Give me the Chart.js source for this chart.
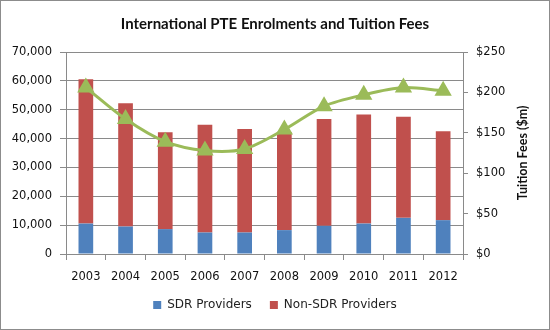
<!DOCTYPE html>
<html><head><meta charset="utf-8">
<script src="https://cdn.jsdelivr.net/npm/chart.js@4"></script>
<style>html,body{margin:0;padding:0;background:#fff}#w{width:550px;height:330px}</style>
</head><body><div id="w"><canvas id="c" width="550" height="330"></canvas></div>
<script>
const categories = ['2003','2004','2005','2006','2007','2008','2009','2010','2011','2012'];
const sdrProviders = [10550, 9520, 8620, 7450, 7450, 8280, 9760, 10550, 12520, 11720];
const nonSdrProviders = [50000, 42760, 33550, 37380, 35860, 33890, 37000, 37830, 35070, 30800];
const tuitionFees = [206, 167, 139, 128, 130, 154, 183, 197, 206, 202];
const leftTicks = [0, 10000, 20000, 30000, 40000, 50000, 60000, 70000];
const rightTicks = [0, 50, 100, 150, 200, 250];
const rightTitle = 'Tuition Fees ($m)';

const TITLE_FONT = 'Lato, "Open Sans", sans-serif';
const FONT = '"DejaVu Sans", Verdana, sans-serif';
const GRID = '#8a8a8a';

const extrasPlugin = {
  id: 'extras',
  afterDraw(chart) {
    const ctx = chart.ctx;
    const area = chart.chartArea;
    ctx.save();
    ctx.strokeStyle = '#8c8c8c';
    ctx.lineWidth = 1;
    ctx.strokeRect(0.5, 0.5, chart.width - 1, chart.height - 1);
    ctx.translate(523, (area.top + area.bottom) / 2);
    ctx.rotate(-Math.PI / 2);
    ctx.fillStyle = '#111';
    ctx.font = 'bold 12.5px ' + TITLE_FONT;
    ctx.textAlign = 'center';
    ctx.textBaseline = 'middle';
    ctx.fillText(rightTitle, 0, 0);
    ctx.restore();
  }
};

new Chart(document.getElementById('c'), {
  data: {
    labels: categories,
    datasets: [
      { type: 'bar', label: 'SDR Providers', data: sdrProviders, backgroundColor: '#4F81BD', yAxisID: 'y', order: 2, stack: 's', barPercentage: 0.37, categoryPercentage: 1 },
      { type: 'bar', label: 'Non-SDR Providers', data: nonSdrProviders, backgroundColor: '#C0504D', yAxisID: 'y', order: 3, stack: 's', barPercentage: 0.37, categoryPercentage: 1 },
      { type: 'line', label: 'Tuition Fees', data: tuitionFees, borderColor: '#9BBB59', backgroundColor: '#9BBB59', borderWidth: 3, pointStyle: 'triangle', pointRadius: 7, pointHoverRadius: 7, tension: 0.3, yAxisID: 'y1', order: 1 }
    ]
  },
  options: {
    responsive: false,
    animation: false,
    layout: { padding: { left: 0, right: 0, top: 0, bottom: 9 } },
    plugins: {
      title: { display: true, text: 'International PTE Enrolments and Tuition Fees', color: '#111', font: { family: TITLE_FONT, size: 15, weight: 'bold' }, padding: { top: 15, bottom: 19 } },
      legend: {
        position: 'bottom',
        labels: { filter: (item) => item.datasetIndex < 2, boxWidth: 8, boxHeight: 8, color: '#222', font: { family: FONT, size: 12 }, padding: 18 }
      },
      tooltip: { enabled: false }
    },
    scales: {
      x: {
        stacked: true,
        grid: { display: true, drawOnChartArea: false, offset: true, tickLength: 6, color: GRID },
        border: { color: GRID },
        ticks: { color: '#111', font: { family: FONT, size: 11.5 }, padding: 10 },
        afterFit(s) { s.height = 27; }
      },
      y: {
        stacked: true, position: 'left', min: 0, max: 70000,
        afterBuildTicks(s) { s.ticks = leftTicks.map(v => ({ value: v })); },
        grid: { color: GRID, tickLength: 6 },
        border: { color: GRID },
        ticks: { color: '#111', font: { family: FONT, size: 11.5 }, padding: 8, callback: (v) => v.toLocaleString('en-US') },
        afterFit(s) { s.width = 66; }
      },
      y1: {
        position: 'right', min: 0, max: 250,
        afterBuildTicks(s) { s.ticks = rightTicks.map(v => ({ value: v })); },
        grid: { drawOnChartArea: false, color: GRID, tickLength: 5 },
        border: { color: GRID },
        ticks: { color: '#111', font: { family: FONT, size: 11.5 }, padding: 8, callback: (v) => '$' + v },
        afterFit(s) { s.width = 87; }
      }
    }
  },
  plugins: [extrasPlugin]
});
</script>
</body></html>
